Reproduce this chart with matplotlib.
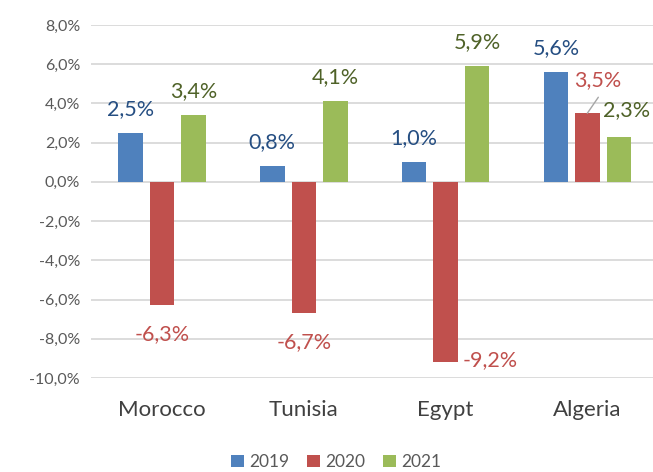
import numpy as np
import matplotlib
matplotlib.use('Agg')
import matplotlib.pyplot as plt

# data (growth rates, %)
countries = ['Morocco', 'Tunisia', 'Egypt', 'Algeria']
years = ['2019', '2020', '2021']
g2019 = [2.5, 0.8, 1.0, 5.6]
g2020 = [-6.3, -6.7, -9.2, 3.5]
g2021 = [3.4, 4.1, 5.9, 2.3]
yticks = [8, 6, 4, 2, 0, -2, -4, -6, -8, -10]

bar_colors = ['#4F81BD', '#C0504D', '#9BBB59']
label_colors = ['#254E82', '#C0504D', '#4F6228']

plt.rcParams['font.family'] = ['Lato', 'DejaVu Sans']

fig = plt.figure(figsize=(6.53, 4.72), dpi=100)
ax = fig.add_axes([91.2 / 653, 94 / 472, 567 / 653, 353 / 472])

x = np.arange(len(countries))
width = 0.173
step = 0.222

def fmt(v):
    return f'{v:.1f}%'.replace('.', ',')

series = [g2019, g2020, g2021]
for i, vals in enumerate(series):
    xs = x + (i - 1) * step
    ax.bar(xs, vals, width=width, color=bar_colors[i], zorder=2, label=years[i])
    for j, (xx, v) in enumerate(zip(xs, vals)):
        dx, dy, ha = 0, 24 if v >= 0 else -29, 'center'
        if countries[j] == 'Egypt' and i == 1:
            dx, dy, ha = 5, 2, 'left'
            xx = xx + width / 2
        if countries[j] == 'Algeria' and i == 1:
            dx, dy = 10.5, 33
            ax.annotate('', xy=(xx, v), xytext=(11, 16), textcoords='offset pixels',
                        arrowprops=dict(arrowstyle='-', color='#A6A6A6', lw=1,
                                        shrinkA=0, shrinkB=0))
        if countries[j] == 'Algeria' and i == 2:
            dx, dy = 7.5, 27
        ax.annotate(fmt(v), xy=(xx, v), xytext=(dx, dy), textcoords='offset pixels',
                    ha=ha, va='center', fontsize=15.5, color=label_colors[i])

ax.set_xlim(-0.5, 3.5)
ax.set_ylim(-10, 8)
ax.set_yticks(yticks)
ax.set_yticklabels([f'{t:.1f}%'.replace('.', ',') for t in yticks], fontsize=11.5, color='#595959')
ax.set_xticks(x)
ax.set_xticklabels(countries, fontsize=16, color='#404040')
ax.tick_params(axis='both', length=0)
ax.tick_params(axis='y', pad=8)
ax.tick_params(axis='x', pad=15.5)
ax.grid(axis='y', color='#D9D9D9', linewidth=1.3, zorder=0)
ax.set_axisbelow(True)
for s in ax.spines.values():
    s.set_visible(False)

fig.legend(loc='center', bbox_to_anchor=(336 / 653, 1 - 462 / 472), ncol=3, frameon=False,
           fontsize=12.5, handlelength=0.75, handleheight=0.75, handletextpad=0.3,
           columnspacing=1.0, labelcolor='#595959')

fig.savefig('out.png', dpi=100)
